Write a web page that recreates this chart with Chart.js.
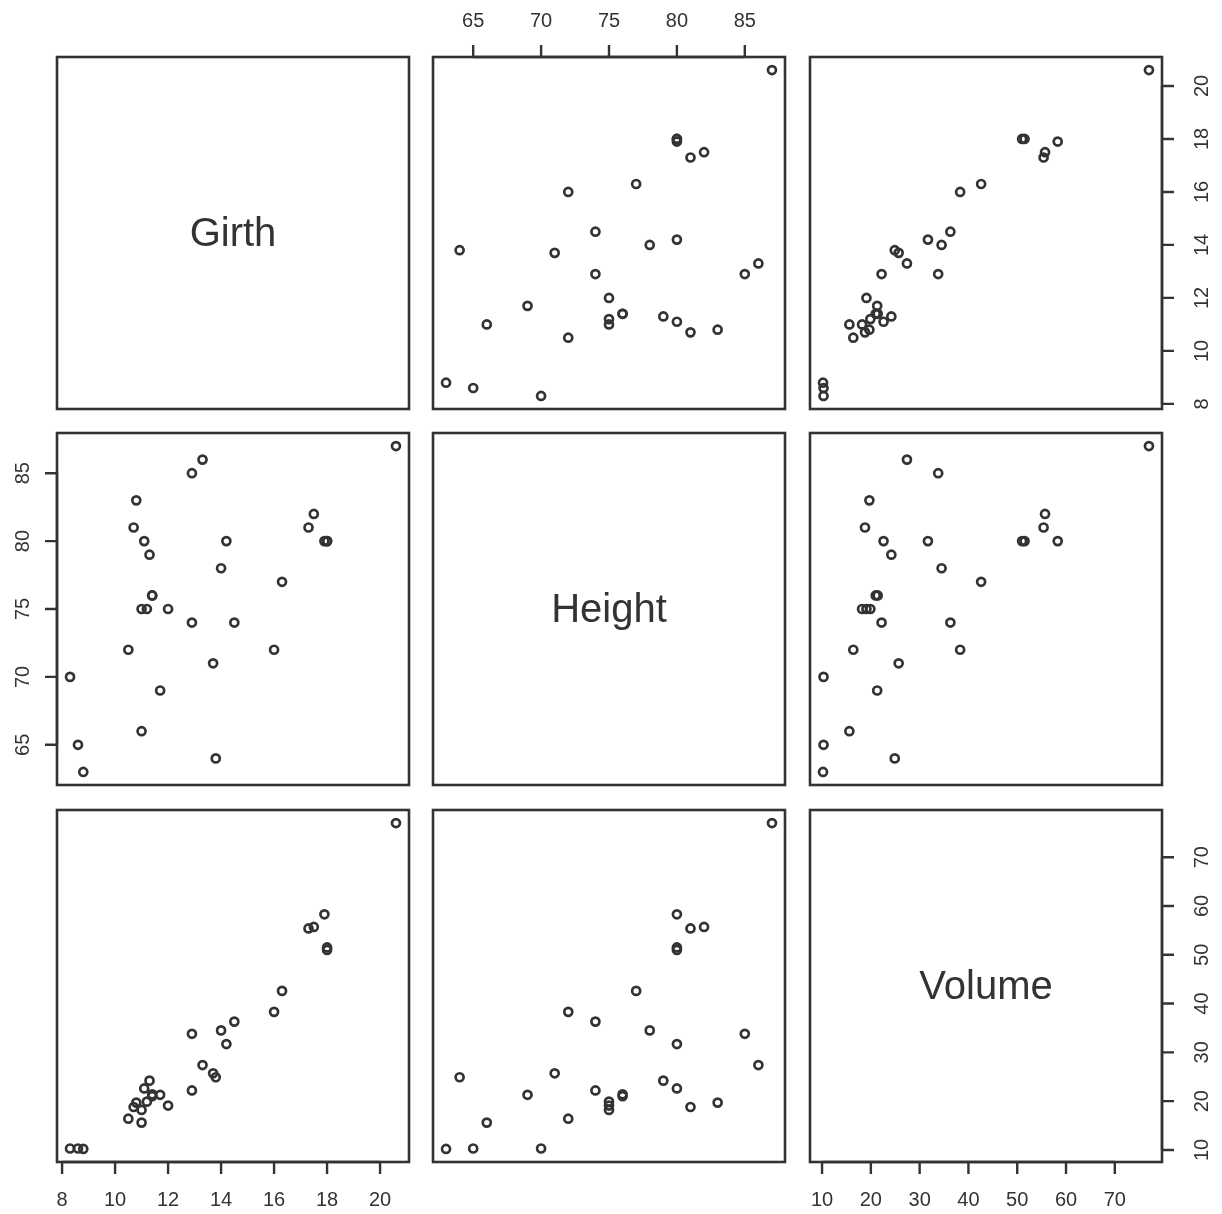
<!DOCTYPE html>
<html>
<head>
<meta charset="utf-8">
<script src="https://cdn.jsdelivr.net/npm/chart.js@4/dist/chart.umd.min.js"></script>
<style>
  html, body { margin: 0; padding: 0; background: #fff; }
  #page { position: relative; width: 1222px; height: 1214px; overflow: hidden; }
  .panel { position: absolute; }
</style>
</head>
<body>
<div id="page"></div>
<script>
// trees data, one value per tree
const girth  = [8.3, 8.6, 8.8, 10.5, 10.7, 10.8, 11.0, 11.0, 11.1, 11.2, 11.3, 11.4, 11.4, 11.7, 12.0,
                12.9, 12.9, 13.3, 13.7, 13.8, 14.0, 14.2, 14.5, 16.0, 16.3, 17.3, 17.5, 17.9, 18.0, 18.0, 20.6];
const height = [70, 65, 63, 72, 81, 83, 66, 75, 80, 75, 79, 76, 76, 69, 75,
                74, 85, 86, 71, 64, 78, 80, 74, 72, 77, 81, 82, 80, 80, 80, 87];
const volume = [10.3, 10.3, 10.2, 16.4, 18.8, 19.7, 15.6, 18.2, 22.6, 19.9, 24.2, 21.0, 21.4, 21.3, 19.1,
                22.2, 33.8, 27.4, 25.7, 24.9, 34.5, 31.7, 36.3, 38.3, 42.6, 55.4, 55.7, 58.3, 51.5, 51.0, 77.0];

const varNames = ['Girth', 'Height', 'Volume'];
const varData = [girth, height, volume];

// tick labels per variable
const girthTicks  = [8, 10, 12, 14, 16, 18, 20];
const heightTicks = [65, 70, 75, 80, 85];
const volumeTicks = [10, 20, 30, 40, 50, 60, 70];
const varTicks = [girthTicks, heightTicks, volumeTicks];

// which panel draws which axis (R pairs style, alternating sides)
// [row, col, side]
const axisSides = [
  [0, 1, 'top'], [0, 2, 'right'],
  [1, 0, 'left'],
  [2, 0, 'bottom'], [2, 2, 'bottom'], [2, 2, 'right']
];

const INK = '#333333';
const FONT = '"Liberation Sans", Arial, sans-serif';
const panelX = [57, 433, 810];
const panelY = [57, 433, 810];
const PW = 352, PH = 352, M = 60;

// R extends the data range by 4% on each side
function rangeOf(arr) {
  const lo = Math.min(...arr), hi = Math.max(...arr);
  const pad = (hi - lo) * 0.04;
  return [lo - pad, hi + pad];
}

const pairsPlugin = {
  id: 'pairs',
  afterDraw(chart) {
    const o = chart.options.plugins.pairs;
    const ctx = chart.ctx;
    const a = chart.chartArea;
    const xs = chart.scales.x, ys = chart.scales.y;
    ctx.save();
    ctx.strokeStyle = INK;
    ctx.fillStyle = INK;
    ctx.lineWidth = 2.6;
    ctx.strokeRect(a.left, a.top, a.right - a.left, a.bottom - a.top);

    if (o.row === o.col) {
      ctx.font = '40px ' + FONT;
      ctx.textAlign = 'center';
      ctx.textBaseline = 'middle';
      ctx.fillText(varNames[o.row], (a.left + a.right) / 2, (a.top + a.bottom) / 2 + 2);
    }

    ctx.font = '20px ' + FONT;
    ctx.lineWidth = 2.4;
    const tl = 12, gap = 37;
    axisSides.filter(s => s[0] === o.row && s[1] === o.col).forEach(s => {
      const side = s[2];
      if (side === 'top' || side === 'bottom') {
        const ticks = varTicks[o.col];
        const y0 = side === 'top' ? a.top : a.bottom;
        const dir = side === 'top' ? -1 : 1;
        ctx.beginPath();
        ctx.moveTo(xs.getPixelForValue(ticks[0]), y0);
        ctx.lineTo(xs.getPixelForValue(ticks[ticks.length - 1]), y0);
        ticks.forEach(t => {
          const px = xs.getPixelForValue(t);
          ctx.moveTo(px, y0);
          ctx.lineTo(px, y0 + dir * tl);
        });
        ctx.stroke();
        ctx.textAlign = 'center';
        ctx.textBaseline = 'middle';
        ticks.forEach(t => ctx.fillText(String(t), xs.getPixelForValue(t), y0 + dir * gap + 1));
      } else {
        const ticks = varTicks[o.row];
        const x0 = side === 'left' ? a.left : a.right;
        const dir = side === 'left' ? -1 : 1;
        ctx.beginPath();
        ctx.moveTo(x0, ys.getPixelForValue(ticks[0]));
        ctx.lineTo(x0, ys.getPixelForValue(ticks[ticks.length - 1]));
        ticks.forEach(t => {
          const py = ys.getPixelForValue(t);
          ctx.moveTo(x0, py);
          ctx.lineTo(x0 + dir * tl, py);
        });
        ctx.stroke();
        ctx.textAlign = 'center';
        ctx.textBaseline = 'middle';
        ticks.forEach(t => {
          ctx.save();
          ctx.translate(x0 + dir * gap, ys.getPixelForValue(t));
          ctx.rotate(-Math.PI / 2);
          ctx.fillText(String(t), 0, 3);
          ctx.restore();
        });
      }
    });
    ctx.restore();
  }
};

const page = document.getElementById('page');

for (let row = 0; row < 3; row++) {
  for (let col = 0; col < 3; col++) {
    const div = document.createElement('div');
    div.className = 'panel';
    div.style.left = (panelX[col] - M) + 'px';
    div.style.top = (panelY[row] - M) + 'px';
    div.style.width = (PW + 2 * M) + 'px';
    div.style.height = (PH + 2 * M) + 'px';
    const canvas = document.createElement('canvas');
    div.appendChild(canvas);
    page.appendChild(div);

    const xr = rangeOf(varData[col]);
    const yr = rangeOf(varData[row]);
    const points = row === col ? [] :
      varData[col].map((v, i) => ({ x: v, y: varData[row][i] }));

    new Chart(canvas.getContext('2d'), {
      type: 'scatter',
      data: {
        datasets: [{
          data: points,
          pointRadius: 4,
          pointBorderWidth: 2.7,
          borderColor: INK,
          backgroundColor: 'rgba(0,0,0,0)',
          pointStyle: 'circle'
        }]
      },
      options: {
        responsive: true,
        maintainAspectRatio: false,
        animation: false,
        layout: { padding: M },
        plugins: {
          legend: { display: false },
          tooltip: { enabled: false },
          pairs: { row: row, col: col }
        },
        scales: {
          x: { type: 'linear', display: false, min: xr[0], max: xr[1] },
          y: { type: 'linear', display: false, min: yr[0], max: yr[1] }
        }
      },
      plugins: [pairsPlugin]
    });
  }
}
</script>
</body>
</html>
